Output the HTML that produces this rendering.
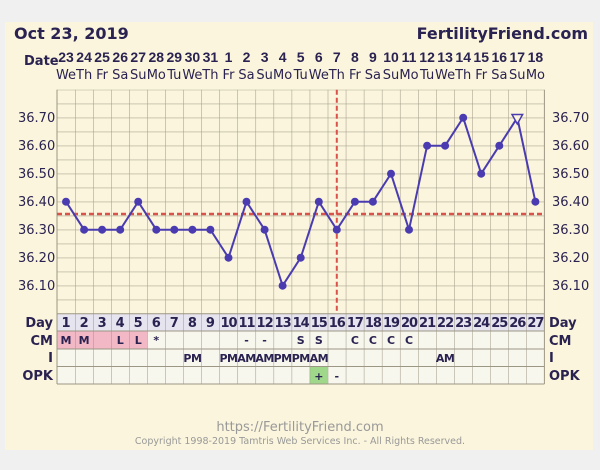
<!DOCTYPE html>
<html><head><meta charset="utf-8"><style>
html,body{margin:0;padding:0;background:#f0f0f0;}
svg{display:block;font-family:"DejaVu Sans","Liberation Sans",sans-serif;}
.n{font-family:"Liberation Sans",sans-serif;}
</style></head><body>
<svg width="600" height="470" viewBox="0 0 600 470" xmlns="http://www.w3.org/2000/svg">
<defs>
<pattern id="g" x="57" y="89.7" width="18.05" height="14" patternUnits="userSpaceOnUse">
<path d="M0 0H18.05M0 0V14" stroke="#9c9684" stroke-width="1" fill="none"/>
</pattern>
<pattern id="gv" x="57" y="0" width="18.05" height="470" patternUnits="userSpaceOnUse">
<path d="M0 0V470" stroke="#9c9684" stroke-width="1" fill="none"/>
</pattern>
</defs>
<rect x="5" y="22" width="588" height="428" fill="#faf5dc"/>
<text x="14" y="39" font-size="16" font-weight="bold" fill="#2a2250">Oct 23, 2019</text>
<text x="588" y="39" font-size="16" font-weight="bold" fill="#2a2250" text-anchor="end">FertilityFriend.com</text>
<text x="24" y="65" font-size="13" font-weight="bold" fill="#2a2250">Date</text>
<g class="n" font-size="14" font-weight="bold" fill="#2a2250" text-anchor="middle">
<text x="66" y="62">23</text><text x="84.1" y="62">24</text><text x="102.1" y="62">25</text><text x="120.2" y="62">26</text><text x="138.2" y="62">27</text><text x="156.3" y="62">28</text><text x="174.3" y="62">29</text><text x="192.4" y="62">30</text><text x="210.4" y="62">31</text><text x="228.5" y="62">1</text><text x="246.5" y="62">2</text><text x="264.6" y="62">3</text><text x="282.6" y="62">4</text><text x="300.7" y="62">5</text><text x="318.8" y="62">6</text><text x="336.8" y="62">7</text><text x="354.9" y="62">8</text><text x="372.9" y="62">9</text><text x="391" y="62">10</text><text x="409" y="62">11</text><text x="427.1" y="62">12</text><text x="445.1" y="62">13</text><text x="463.2" y="62">14</text><text x="481.2" y="62">15</text><text x="499.3" y="62">16</text><text x="517.3" y="62">17</text><text x="535.4" y="62">18</text>
</g>
<g font-size="13" fill="#2a2250" text-anchor="middle">
<text x="66" y="79">We</text><text x="84.1" y="79">Th</text><text x="102.1" y="79">Fr</text><text x="120.2" y="79">Sa</text><text x="138.2" y="79">Su</text><text x="156.3" y="79">Mo</text><text x="174.3" y="79">Tu</text><text x="192.4" y="79">We</text><text x="210.4" y="79">Th</text><text x="228.5" y="79">Fr</text><text x="246.5" y="79">Sa</text><text x="264.6" y="79">Su</text><text x="282.6" y="79">Mo</text><text x="300.7" y="79">Tu</text><text x="318.8" y="79">We</text><text x="336.8" y="79">Th</text><text x="354.9" y="79">Fr</text><text x="372.9" y="79">Sa</text><text x="391" y="79">Su</text><text x="409" y="79">Mo</text><text x="427.1" y="79">Tu</text><text x="445.1" y="79">We</text><text x="463.2" y="79">Th</text><text x="481.2" y="79">Fr</text><text x="499.3" y="79">Sa</text><text x="517.3" y="79">Su</text><text x="535.4" y="79">Mo</text>
</g>
<rect x="57" y="89.7" width="487.4" height="224" fill="url(#g)"/>
<rect x="57" y="313.7" width="487.4" height="17.3" fill="#e6e4ee"/>
<rect x="57" y="331" width="487.4" height="53" fill="#f8f7ee"/>
<rect x="57" y="331" width="90.3" height="18" fill="#f2b8c6"/>
<rect x="309.7" y="366.5" width="18.05" height="17.5" fill="#9fd88a"/>
<rect x="57" y="313.7" width="487.4" height="70.3" fill="url(#gv)"/>
<g stroke="#9c9684" stroke-width="1">
<line x1="57" y1="313.7" x2="544.4" y2="313.7"/><line x1="57" y1="331" x2="544.4" y2="331"/><line x1="57" y1="349" x2="544.4" y2="349"/><line x1="57" y1="366.5" x2="544.4" y2="366.5"/><line x1="57" y1="384" x2="544.4" y2="384"/>
<line x1="544.4" y1="89.7" x2="544.4" y2="384"/><line x1="57" y1="89.7" x2="57" y2="384"/>
</g>
<g font-size="13" fill="#2a2250">
<text x="18" y="122">36.70</text><text x="18" y="150">36.60</text><text x="18" y="178">36.50</text><text x="18" y="206">36.40</text><text x="18" y="234">36.30</text><text x="18" y="262">36.20</text><text x="18" y="290">36.10</text>
<text x="552" y="122">36.70</text><text x="552" y="150">36.60</text><text x="552" y="178">36.50</text><text x="552" y="206">36.40</text><text x="552" y="234">36.30</text><text x="552" y="262">36.20</text><text x="552" y="290">36.10</text>
</g>
<g font-size="13" font-weight="bold" fill="#2a2250">
<text x="53" y="327" text-anchor="end">Day</text><text x="53" y="345" text-anchor="end">CM</text><text x="53" y="362" text-anchor="end">I</text><text x="53" y="380" text-anchor="end">OPK</text>
<text x="549" y="327">Day</text><text x="549" y="345">CM</text><text x="549" y="362">I</text><text x="549" y="380">OPK</text>
</g>
<g font-size="13" font-weight="bold" fill="#2a2250" text-anchor="middle">
<text x="66" y="327">1</text><text x="84.1" y="327">2</text><text x="102.1" y="327">3</text><text x="120.2" y="327">4</text><text x="138.2" y="327">5</text><text x="156.3" y="327">6</text><text x="174.3" y="327">7</text><text x="192.4" y="327">8</text><text x="210.4" y="327">9</text><text x="228.5" y="327" letter-spacing="-1">10</text><text x="246.5" y="327" letter-spacing="-1">11</text><text x="264.6" y="327" letter-spacing="-1">12</text><text x="282.6" y="327" letter-spacing="-1">13</text><text x="300.7" y="327" letter-spacing="-1">14</text><text x="318.8" y="327" letter-spacing="-1">15</text><text x="336.8" y="327" letter-spacing="-1">16</text><text x="354.9" y="327" letter-spacing="-1">17</text><text x="372.9" y="327" letter-spacing="-1">18</text><text x="391" y="327" letter-spacing="-1">19</text><text x="409" y="327" letter-spacing="-1">20</text><text x="427.1" y="327" letter-spacing="-1">21</text><text x="445.1" y="327" letter-spacing="-1">22</text><text x="463.2" y="327" letter-spacing="-1">23</text><text x="481.2" y="327" letter-spacing="-1">24</text><text x="499.3" y="327" letter-spacing="-1">25</text><text x="517.3" y="327" letter-spacing="-1">26</text><text x="535.4" y="327" letter-spacing="-1">27</text>
</g>
<g font-size="11" font-weight="bold" fill="#2a2250" text-anchor="middle">
<text x="66" y="344">M</text><text x="84.1" y="344">M</text><text x="120.2" y="344">L</text><text x="138.2" y="344">L</text><text x="156.3" y="344">*</text><text x="246.5" y="344">-</text><text x="264.6" y="344">-</text><text x="300.7" y="344">S</text><text x="318.8" y="344">S</text><text x="354.9" y="344">C</text><text x="372.9" y="344">C</text><text x="391" y="344">C</text><text x="409" y="344">C</text>
<text x="192.4" y="362" letter-spacing="-0.5">PM</text><text x="228.5" y="362" letter-spacing="-0.5">PM</text><text x="246.5" y="362" letter-spacing="-0.5">AM</text><text x="264.6" y="362" letter-spacing="-0.5">AM</text><text x="282.6" y="362" letter-spacing="-0.5">PM</text><text x="300.7" y="362" letter-spacing="-0.5">PM</text><text x="318.8" y="362" letter-spacing="-0.5">AM</text><text x="445.1" y="362" letter-spacing="-0.5">AM</text>
<text x="318.8" y="380">+</text><text x="336.8" y="380">-</text>
</g>
<line x1="57" y1="214" x2="544.4" y2="214" stroke="#d9534a" stroke-width="2.5" stroke-dasharray="5,3"/>
<line x1="336.8" y1="89.7" x2="336.8" y2="313.7" stroke="#d9534a" stroke-width="2" stroke-dasharray="5,3"/>
<polyline fill="none" stroke="#4a3cb0" stroke-width="2" points="66,201.7 84.1,229.7 102.1,229.7 120.2,229.7 138.2,201.7 156.3,229.7 174.3,229.7 192.4,229.7 210.4,229.7 228.5,257.7 246.5,201.7 264.6,229.7 282.6,285.7 300.7,257.7 318.8,201.7 336.8,229.7 354.9,201.7 372.9,201.7 391,173.7 409,229.7 427.1,145.7 445.1,145.7 463.2,117.7 481.2,173.7 499.3,145.7 517.3,117.7 535.4,201.7"/>
<g fill="#4a3cb0">
<circle cx="66" cy="201.7" r="4"/><circle cx="84.1" cy="229.7" r="4"/><circle cx="102.1" cy="229.7" r="4"/><circle cx="120.2" cy="229.7" r="4"/><circle cx="138.2" cy="201.7" r="4"/><circle cx="156.3" cy="229.7" r="4"/><circle cx="174.3" cy="229.7" r="4"/><circle cx="192.4" cy="229.7" r="4"/><circle cx="210.4" cy="229.7" r="4"/><circle cx="228.5" cy="257.7" r="4"/><circle cx="246.5" cy="201.7" r="4"/><circle cx="264.6" cy="229.7" r="4"/><circle cx="282.6" cy="285.7" r="4"/><circle cx="300.7" cy="257.7" r="4"/><circle cx="318.8" cy="201.7" r="4"/><circle cx="336.8" cy="229.7" r="4"/><circle cx="354.9" cy="201.7" r="4"/><circle cx="372.9" cy="201.7" r="4"/><circle cx="391" cy="173.7" r="4"/><circle cx="409" cy="229.7" r="4"/><circle cx="427.1" cy="145.7" r="4"/><circle cx="445.1" cy="145.7" r="4"/><circle cx="463.2" cy="117.7" r="4"/><circle cx="481.2" cy="173.7" r="4"/><circle cx="499.3" cy="145.7" r="4"/><circle cx="535.4" cy="201.7" r="4"/>
</g>
<polygon points="512,114.5 522.6,114.5 517.3,124" fill="#faf5dc" stroke="#4a3cb0" stroke-width="1.5"/>
<text x="300" y="431" font-size="13" fill="#999" text-anchor="middle">https://FertilityFriend.com</text>
<text x="300" y="444" font-size="9.5" fill="#999" text-anchor="middle">Copyright 1998-2019 Tamtris Web Services Inc. - All Rights Reserved.</text>
</svg>
</body></html>
